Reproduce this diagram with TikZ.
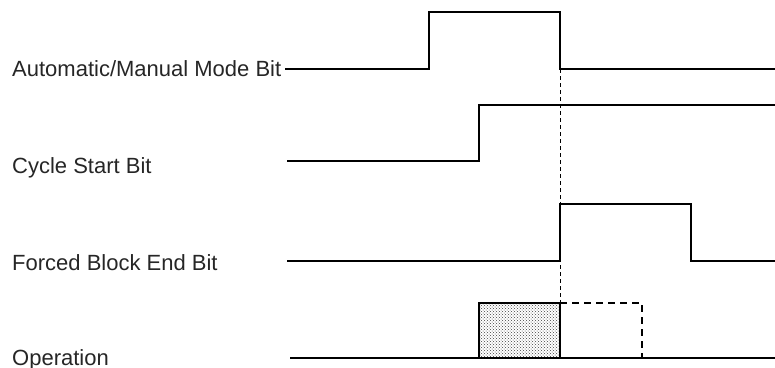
\documentclass[tikz,border=0pt]{standalone}
\usepackage{fontspec}
\setmainfont{Liberation Sans}
\usetikzlibrary{patterns}
\begin{document}
\begin{tikzpicture}[x=1pt,y=-1pt,
  sig/.style={line width=2pt, line join=miter},
  guide/.style={line width=1pt, dash pattern=on 4pt off 3pt},
  pend/.style={line width=1.8pt, dash pattern=on 7pt off 5pt},
  lbl/.style={anchor=base west, inner sep=0pt, font=\fontsize{22}{24}\selectfont, text=black!85}]
\useasboundingbox (0,0) rectangle (775,367);
% labels
\node[lbl] (l1) at (12,76.7) {Automatic/Manual Mode Bit};
\node[lbl] (l2) at (12,173) {Cycle Start Bit};
\node[lbl] (l3) at (12,270) {Forced Block End Bit};
\node[lbl] (l4) at (12,365) {Operation};
% shaded operation block
\fill[pattern=crosshatch dots, pattern color=black!75] (479,303) rectangle (560,358);
% guide line
\draw[guide] (560,69) -- (560,303);
% signals
\draw[sig] (285,69) -- (429,69) -- (429,12) -- (560,12) -- (560,69) -- (775,69);
\draw[sig] (287,161) -- (479,161) -- (479,105) -- (775,105);
\draw[sig] (287,261) -- (560,261) -- (560,204) -- (691,204) -- (691,261) -- (775,261);
\draw[sig] (290,358) -- (775,358);
\draw[sig] (479,358) -- (479,303) -- (560,303) -- (560,358);
\draw[pend] (560,303) -- (642,303) -- (642,358);
\end{tikzpicture}
\end{document}
